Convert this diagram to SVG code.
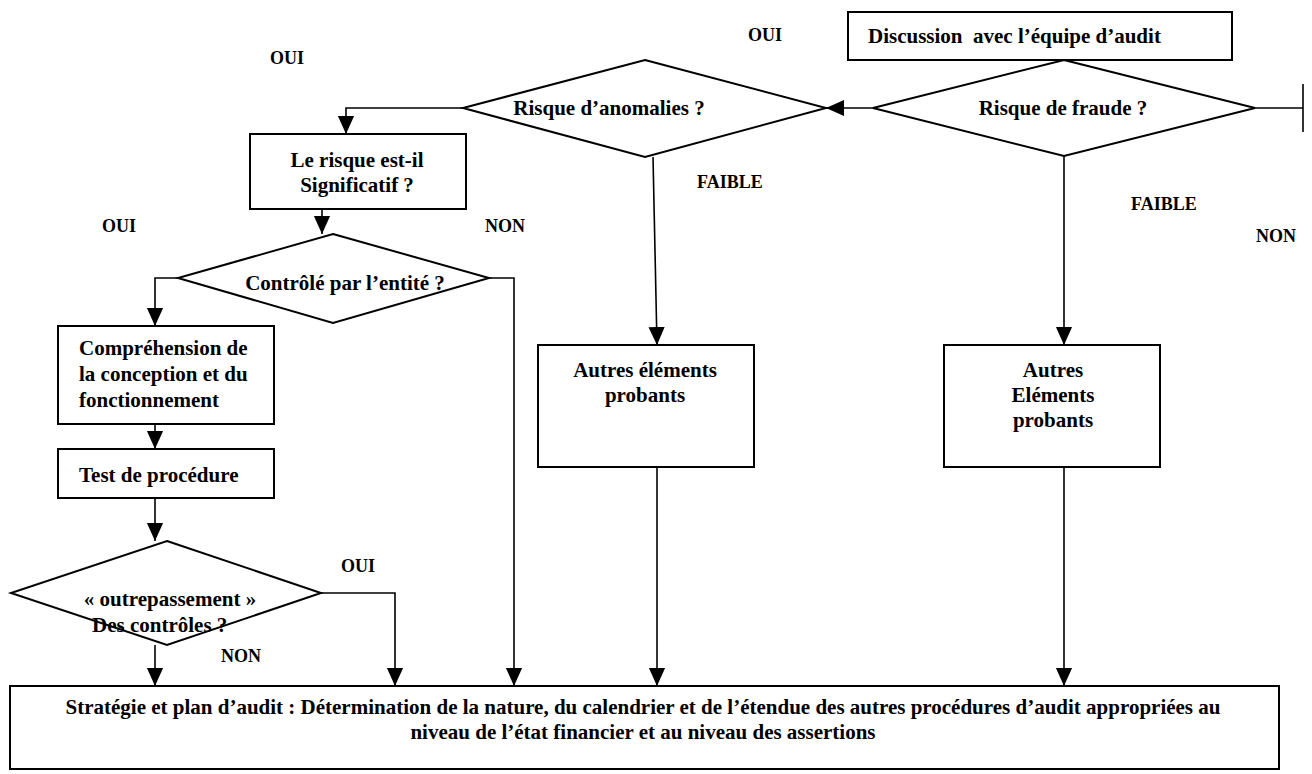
<svg xmlns="http://www.w3.org/2000/svg" width="1312" height="774" viewBox="0 0 1312 774">
<style>
text{font-family:"Liberation Serif","Times New Roman",serif;font-weight:bold;font-size:21px;fill:#000}
.c{text-anchor:middle}
.lb{font-size:18px}
.s{fill:#fff;stroke:#000;stroke-width:2}
.l{fill:none;stroke:#000;stroke-width:1.6}
</style>
<defs>
<marker id="a" markerUnits="userSpaceOnUse" markerWidth="18" markerHeight="22" refX="20" refY="9" orient="auto" viewBox="0 0 20 18">
<path d="M0,0 L20,9 L0,18 Z" fill="#000"/>
</marker>
</defs>
<rect width="1312" height="774" fill="#fff"/>
<g id="connectors">
<path class="l" d="M873,108 H826" marker-end="url(#a)"/>
<path class="l" d="M1255,108 H1303 M1303,84 V132"/>
<path class="l" d="M463,108 H346 V134" marker-end="url(#a)"/>
<path class="l" d="M322,209 V234" marker-end="url(#a)"/>
<path class="l" d="M178,278 H155 V326" marker-end="url(#a)"/>
<path class="l" d="M489,278 H514 V686" marker-end="url(#a)"/>
<path class="l" d="M155,424 V449" marker-end="url(#a)"/>
<path class="l" d="M155,498 V541" marker-end="url(#a)"/>
<path class="l" d="M321,593 H395 V686" marker-end="url(#a)"/>
<path class="l" d="M155,645 V686" marker-end="url(#a)"/>
<path class="l" d="M653,157 L657,345" marker-end="url(#a)"/>
<path class="l" d="M657,467 V686" marker-end="url(#a)"/>
<path class="l" d="M1064,156 V345" marker-end="url(#a)"/>
<path class="l" d="M1064,467 V686" marker-end="url(#a)"/>
</g>
<g id="discussion">
<rect class="s" x="848" y="12" width="384" height="48"/>
<text x="868" y="43" xml:space="preserve">Discussion  avec l’équipe d’audit</text>
</g>
<g id="fraude">
<polygon class="s" points="1064,60 1255,108 1064,156 873,108"/>
<text class="c" x="1063" y="115">Risque de fraude ?</text>
</g>
<g id="anomalies">
<polygon class="s" points="645,60 826,108 645,157 463,108"/>
<text class="c" x="609" y="115">Risque d’anomalies ?</text>
</g>
<g id="significatif">
<rect class="s" x="250" y="134" width="216" height="75"/>
<text class="c" x="357" y="167">Le risque est-il</text>
<text class="c" x="357" y="192">Significatif ?</text>
</g>
<g id="controle">
<polygon class="s" points="333,234 489,278 333,323 178,278"/>
<text class="c" x="345" y="290">Contrôlé par l’entité ?</text>
</g>
<g id="comprehension">
<rect class="s" x="58" y="326" width="216" height="98"/>
<text x="79" y="355">Compréhension de</text>
<text x="79" y="381">la conception et du</text>
<text x="79" y="407">fonctionnement</text>
</g>
<g id="test">
<rect class="s" x="58" y="449" width="216" height="49"/>
<text x="79" y="482">Test de procédure</text>
</g>
<g id="outrepassement">
<polygon class="s" points="167,541 321,593 167,645 11,593"/>
<text class="c" x="170" y="606">« outrepassement »</text>
<text x="92" y="632">Des contrôles ?</text>
</g>
<g id="autres1">
<rect class="s" x="538" y="345" width="216" height="122"/>
<text class="c" x="645" y="377">Autres éléments</text>
<text class="c" x="645" y="402">probants</text>
</g>
<g id="autres2">
<rect class="s" x="944" y="345" width="216" height="122"/>
<text class="c" x="1053" y="377">Autres</text>
<text class="c" x="1053" y="402">Eléments</text>
<text class="c" x="1053" y="427">probants</text>
</g>
<g id="strategie">
<rect class="s" x="10" y="686" width="1269" height="83"/>
<text class="c" x="643" y="714">Stratégie et plan d’audit : Détermination de la nature, du calendrier et de l’étendue des autres procédures d’audit appropriées au</text>
<text class="c" x="643" y="739">niveau de l’état financier et au niveau des assertions</text>
</g>
<g id="labels">
<text class="lb" x="270" y="64">OUI</text>
<text class="lb" x="748" y="41">OUI</text>
<text class="lb" x="697" y="188">FAIBLE</text>
<text class="lb" x="1131" y="210">FAIBLE</text>
<text class="lb" x="1256" y="242">NON</text>
<text class="lb" x="102" y="232">OUI</text>
<text class="lb" x="485" y="232">NON</text>
<text class="lb" x="341" y="572">OUI</text>
<text class="lb" x="221" y="662">NON</text>
</g>
</svg>
